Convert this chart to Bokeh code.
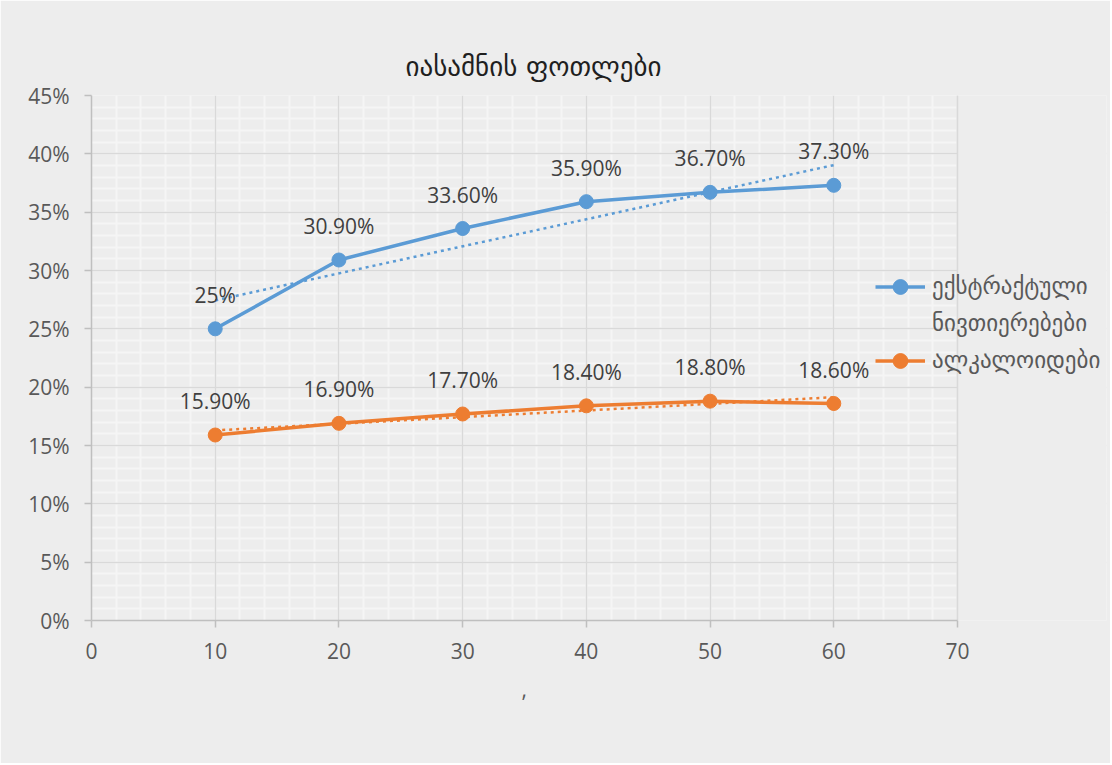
import numpy as np
from bokeh.plotting import figure
from bokeh.models import (Range1d, FixedTicker, NumeralTickFormatter, Legend, LegendItem,
                          Grid, BoxAnnotation, Span, Title)
from bokeh.core.properties import value
from bokeh.embed import file_html
from bokeh.resources import INLINE

# ---------------- data ----------------
title_text = "იასამნის ფოთლები"
x_axis_title = ","
x_vals = [10, 20, 30, 40, 50, 60]
extract_vals = [0.25, 0.309, 0.336, 0.359, 0.367, 0.373]
alkaloid_vals = [0.159, 0.169, 0.177, 0.184, 0.188, 0.186]
series_name_lines = [["ექსტრაქტული", "ნივთიერებები"], ["ალკალოიდები"]]
series_colors = ["#5B9BD5", "#ED7D31"]
x_ticks = [0, 10, 20, 30, 40, 50, 60, 70]
y_ticks = [0, 0.05, 0.10, 0.15, 0.20, 0.25, 0.30, 0.35, 0.40, 0.45]
X_MAX = 70


def fmt(v):
    pct = round(v * 100, 2)
    if abs(pct - round(pct)) < 1e-9:
        return f"{int(round(pct))}%"
    return f"{pct:.2f}%"


NUM_FONT = "Open Sans"
GEO_FONT = "DejaVu Sans"
BG = "#ededed"

W, H = 1110, 763
ML, MT = 91, 95
PLOT_W, PLOT_H = 866, 525          # width of the 0..70 area, frame height
MR = 4
MB = H - MT - PLOT_H
FRAME_W = W - ML - MR
x_end = X_MAX * FRAME_W / PLOT_W   # frame extends right to hold the legend

p = figure(width=W, height=H, output_backend="svg", toolbar_location=None,
           x_range=Range1d(0, x_end), y_range=Range1d(0, 0.45),
           min_border_left=ML, min_border_right=MR,
           min_border_top=MT, min_border_bottom=MB,
           background_fill_color=BG, border_fill_color=BG,
           outline_line_color=None)

# title
p.title.text = title_text
p.title.align = "left"
p.title.offset = 314
p.title.text_font = GEO_FONT
p.title.text_font_size = "27px"
p.title.text_font_style = "normal"
p.title.text_color = "#1f1f1f"
p.title.standoff = 28

# axes
p.xaxis.ticker = FixedTicker(ticks=x_ticks)
p.yaxis.ticker = FixedTicker(ticks=y_ticks)
p.yaxis.formatter = NumeralTickFormatter(format="0%")
p.xaxis.bounds = (0, X_MAX)
for ax in (p.xaxis[0], p.yaxis[0]):
    ax.axis_line_color = "#bfbfbf"
    ax.axis_line_width = 1.5
    ax.major_tick_line_color = "#bfbfbf"
    ax.major_tick_line_width = 1.5
    ax.major_tick_in = 0
    ax.major_tick_out = 7
    ax.minor_tick_line_color = None
    ax.major_label_text_font = NUM_FONT
    ax.major_label_text_font_size = "21px"
    ax.major_label_text_color = "#595959"
    ax.major_label_standoff = 15

# x-axis title, centred under the 0..70 area
p.add_layout(Title(text=x_axis_title, align="left", offset=PLOT_W / 2 - 3,
                   text_font=NUM_FONT, text_font_size="21px", text_font_style="normal",
                   text_color="#595959", standoff=35), "below")

# minor grid (default grids), then major grid on top
p.xgrid.ticker = FixedTicker(ticks=x_ticks, minor_ticks=list(range(0, X_MAX + 1, 2)))
p.ygrid.ticker = FixedTicker(ticks=y_ticks, minor_ticks=[i / 100 for i in range(46)])
for g in (p.xgrid[0], p.ygrid[0]):
    g.grid_line_color = None
    g.minor_grid_line_color = "#f5f5f5"
    g.minor_grid_line_width = 2
p.add_layout(Grid(dimension=0, ticker=FixedTicker(ticks=x_ticks),
                  grid_line_color="#d9d9d9", grid_line_width=1.5))
p.add_layout(Grid(dimension=1, ticker=FixedTicker(ticks=y_ticks),
                  grid_line_color="#d9d9d9", grid_line_width=1.5))
# blank out the area right of the 0..70 plot area (legend space)
p.add_layout(BoxAnnotation(left=X_MAX, fill_color=BG, fill_alpha=1, line_color=None,
                           level="underlay"))
p.add_layout(Span(location=X_MAX, dimension="height", line_color="#d9d9d9",
                  line_width=1.5, level="underlay"))

# series
items = []
for i, (ys, col) in enumerate(zip([extract_vals, alkaloid_vals], series_colors)):
    ln = p.line(x_vals, ys, line_color=col, line_width=3.5)
    sc = p.scatter(x_vals, ys, size=14, marker="circle", fill_color=col, line_color=col)
    # linear trendline fitted to the series
    k, b = np.polyfit(x_vals, ys, 1)
    tx = [min(x_vals), max(x_vals)]
    p.line(tx, [k * t + b for t in tx], line_color=col, line_width=2.5, line_dash="3 4")
    p.text(x_vals, ys, text=[fmt(v) for v in ys], text_align="center",
           text_baseline="middle", y_offset=-34, text_font=value(NUM_FONT),
           text_font_size="21px", text_color="#404040")
    lines = series_name_lines[i]
    items.append(LegendItem(label=lines[0], renderers=[ln, sc]))
    for extra in lines[1:]:
        ghost = p.line(x_vals[:1], ys[:1], line_alpha=0)
        items.append(LegendItem(label=extra, renderers=[ghost]))

ROW = 37
legend = Legend(items=items,
                location=(784, 620 - (360 + ROW / 2)),
                padding=0, margin=0, spacing=0, glyph_width=50, glyph_height=ROW,
                label_height=ROW, label_standoff=7, label_text_font=GEO_FONT,
                label_text_font_size="23px", label_text_color="#595959",
                background_fill_alpha=0, border_line_alpha=0)
p.add_layout(legend)

open("out.html", "w").write(file_html(p, INLINE))
